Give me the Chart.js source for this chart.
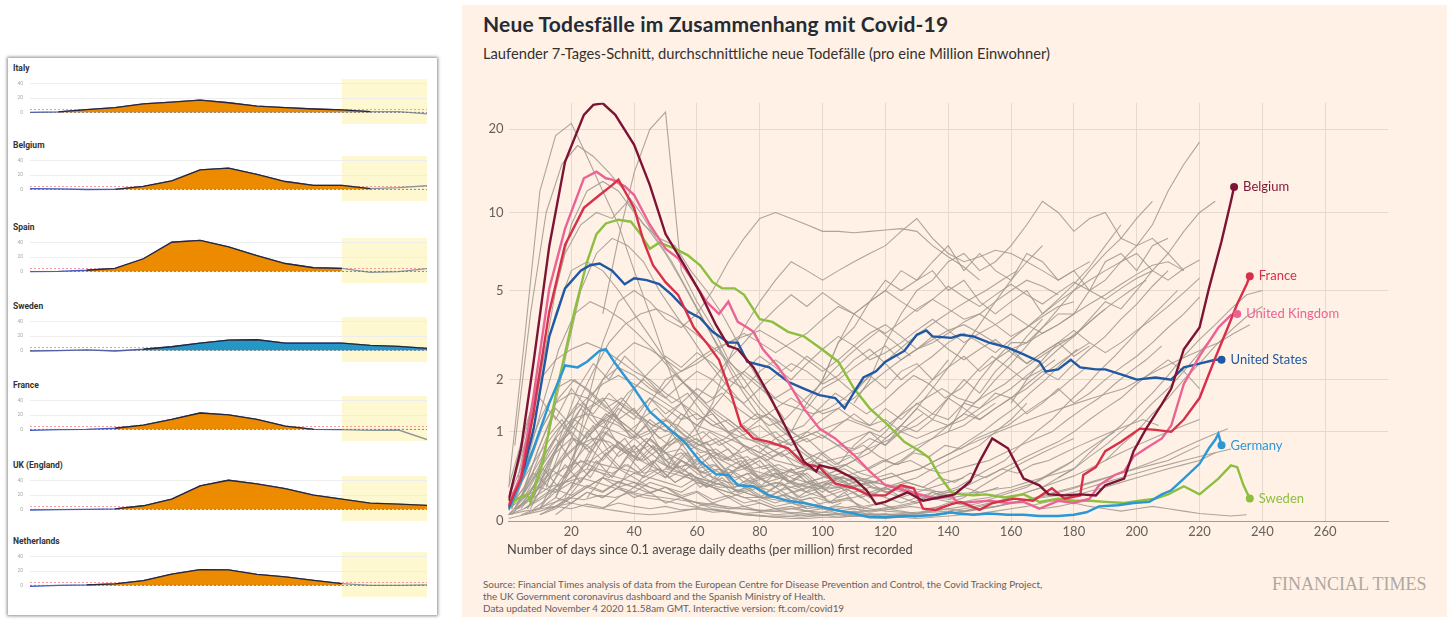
<!DOCTYPE html>
<html>
<head>
<meta charset="utf-8">
<script src="https://cdn.jsdelivr.net/npm/chart.js@4.4.0/dist/chart.umd.min.js"></script>
<style>
  body { margin: 0; width: 1453px; height: 621px; background: #fff; position: relative; overflow: hidden; font-family: Lato, "Open Sans", sans-serif; }
  #card { position: absolute; left: 8px; top: 58px; width: 429px; height: 557px; background: #fff; box-shadow: 0 0 3px 1px rgba(0,0,0,0.45); }
  .mini-title { position: absolute; left: 13px; font: bold 8.5px Roboto, sans-serif; color: #333; line-height: 10px; }
  .mini { position: absolute; left: 8px; }
  #ft { position: absolute; left: 462px; top: 5px; width: 985px; height: 612px; background: #fff1e5; }
  #ft-title { position: absolute; left: 483px; top: 11px; font: bold 21px Lato, sans-serif; letter-spacing: 0.2px; color: #262a33; white-space: nowrap; }
  #ft-sub { position: absolute; left: 483px; top: 44px; font: 14.7px Lato, sans-serif; color: #33302e; white-space: nowrap; }
  #ft-xtitle { position: absolute; left: 507px; top: 541px; font: 12.8px Lato, sans-serif; color: #4d4845; white-space: nowrap; }
  #ft-source { position: absolute; left: 483px; top: 578px; font: 9.9px Lato, sans-serif; line-height: 12px; color: #66605c; white-space: nowrap; }
  #ft-brand { position: absolute; left: 1272px; top: 574px; font: 18px "Liberation Serif", "DejaVu Serif", serif; color: #b0a8a0; white-space: nowrap; }
  #main { position: absolute; left: 462px; top: 90px; }
</style>
</head>
<body>
<div id="card"></div>
<div id="ft"></div>
<div id="ft-title">Neue Todesfälle im Zusammenhang mit Covid-19</div>
<div id="ft-sub">Laufender 7-Tages-Schnitt, durchschnittliche neue Todefälle (pro eine Million Einwohner)</div>
<canvas id="main" width="985" height="455"></canvas>
<div id="ft-xtitle">Number of days since 0.1 average daily deaths (per million) first recorded</div>
<div id="ft-source">Source: Financial Times analysis of data from the European Centre for Disease Prevention and Control, the Covid Tracking Project,<br>the UK Government coronavirus dashboard and the Spanish Ministry of Health.<br>Data updated November 4 2020 11.58am GMT. Interactive version: ft.com/covid19</div>
<div id="ft-brand">FINANCIAL TIMES</div>

<script>
// ---------- left panel: weekly z-scores ----------
const weeks = [8, 9, 10, 11, 12, 13, 14, 15, 16, 17, 18, 19, 20, 21, 22];
const countries = ['Italy', 'Belgium', 'Spain', 'Sweden', 'France', 'UK (England)', 'Netherlands'];

const zItaly       = [0, 0.5, 3.7, 6.5, 12, 14.4, 17.2, 13.5, 8.8, 6.5, 4.7, 3.3, 1, 1, -2.3];
const zBelgium     = [1, 0.5, -0.3, 0, 4, 12, 27.4, 30, 21, 11, 5.6, 5.6, 1, 2.5, 5];
const zSpain       = [-0.5, 0, 1.5, 4.2, 17.7, 41, 43.7, 34.4, 22.3, 11, 5, 4, -1.4, -0.5, 3.7];
const zSweden      = [-1, -0.5, 0.5, -1, 1.5, 5, 10, 14.4, 14.9, 10.2, 10.2, 10.2, 7, 5.6, 2.8];
const zFrance      = [-1.5, -0.5, 0, 1.5, 6, 14, 23, 20.5, 14, 4.6, 0, -0.5, -1.5, -1, -14.4];
const zUK          = [-1, -0.5, 0, 0.5, 5, 14.4, 33, 41, 36, 29.3, 20, 14.4, 8.8, 7.4, 5.6];
const zNetherlands = [-1.5, 0, 0.5, 1.9, 6.5, 15.8, 22, 21.8, 15.3, 12, 7, 2.3, 0, 0, 0.5];
const zScores = [zItaly, zBelgium, zSpain, zSweden, zFrance, zUK, zNetherlands];

// weeks where the excess area is shaded
const fillFrom = [9, 11, 10, 12, 11, 11, 10];
const fillTo   = [20, 20, 19, 22, 18, 22, 19];
const miniYTicks = [0, 20, 40];
const thresholdZ = 4;
const delayFromWeek = 19;

// ---------- right panel: FT deaths per million (7-day avg) ----------
const yTickValues = [0, 1, 2, 5, 10, 20];

const belgium = [[0,0.17],[4,0.76],[8,2.45],[13,7.5],[18,15.3],[24,22.5],[27,24.4],[30,24.7],[34,22.5],[40,17.6],[45,12.6],[50,8.3],[56,6.3],[61,4.9],[66,3.6],[70,2.9],[73,2.8],[78,2.3],[83,1.66],[89,1.0],[94,0.59],[98,0.47],[99,0.54],[104,0.5],[110,0.39],[114,0.27],[117,0.14],[120,0.16],[127,0.25],[132,0.17],[137,0.2],[142,0.23],[147,0.36],[150,0.59],[154,0.9],[159,0.76],[164,0.39],[169,0.32],[172,0.23],[177,0.22],[182,0.23],[187,0.22],[190,0.32],[196,0.39],[199,0.72],[203,1.05],[208,1.48],[211,1.8],[215,2.8],[220,3.5],[223,5.1],[227,7.8],[230,11.0],[231,12.4]];
const france = [[0,0.12],[4,0.39],[8,1.34],[13,4.1],[18,7.55],[24,10.4],[29,11.6],[33,12.6],[35,13.2],[37,12],[40,10.4],[43,7.8],[46,6.3],[50,5.4],[54,4.8],[59,3.5],[63,3.0],[67,2.5],[71,1.66],[74,1.1],[78,0.9],[83,0.85],[89,0.76],[94,0.56],[99,0.52],[104,0.34],[110,0.29],[115,0.22],[120,0.22],[125,0.32],[129,0.29],[132,0.1],[136,0.09],[141,0.14],[144,0.16],[150,0.09],[154,0.15],[161,0.19],[167,0.17],[173,0.29],[177,0.19],[182,0.22],[183,0.43],[187,0.52],[190,0.72],[195,0.85],[201,1.05],[206,1.03],[211,1.0],[215,1.2],[220,1.6],[225,2.55],[229,3.5],[232,4.4],[235,5.3],[236,5.7]];
const unitedKingdom = [[0,0.13],[4,0.43],[8,1.66],[13,5.1],[18,8.7],[24,13.35],[28,14.1],[31,13.35],[33,13.2],[37,12.5],[40,11.6],[45,9],[50,7.3],[54,6.7],[59,5.4],[63,4.5],[67,4.0],[70,4.5],[73,3.7],[76,3.5],[78,3.35],[81,2.8],[86,2.3],[89,1.95],[94,1.4],[99,1.05],[104,0.9],[110,0.67],[115,0.47],[120,0.32],[126,0.27],[131,0.23],[136,0.19],[141,0.22],[143,0.15],[148,0.16],[153,0.17],[159,0.15],[164,0.16],[169,0.1],[175,0.17],[180,0.15],[185,0.19],[188,0.32],[193,0.43],[196,0.47],[199,0.65],[203,0.76],[208,0.9],[211,1.1],[215,1.9],[220,2.6],[226,3.5],[230,3.95],[232,4.0]];
const unitedStates = [[0,0.11],[5,0.52],[8,1.05],[13,3.2],[18,5.1],[23,6.0],[26,6.3],[29,6.4],[33,6.0],[37,5.3],[40,5.6],[44,5.5],[48,5.3],[52,4.8],[57,4.1],[61,3.85],[65,3.35],[70,3.0],[73,3.0],[76,2.45],[83,2.3],[89,1.95],[94,1.8],[99,1.66],[104,1.6],[107,1.4],[110,1.72],[113,2.05],[117,2.2],[120,2.45],[126,2.75],[130,3.25],[133,3.4],[135,3.2],[141,3.15],[144,3.25],[148,3.2],[153,3.0],[159,2.85],[164,2.65],[169,2.45],[171,2.2],[175,2.25],[179,2.5],[182,2.3],[187,2.25],[190,2.25],[196,2.1],[200,2.0],[206,2.05],[211,2.0],[215,2.3],[220,2.4],[225,2.5],[227,2.5]];
const germany = [[0,0.09],[4,0.36],[8,0.76],[13,1.5],[18,2.35],[22,2.3],[25,2.45],[29,2.75],[31,2.8],[34,2.4],[40,1.8],[45,1.34],[50,1.1],[56,0.85],[61,0.59],[66,0.44],[70,0.43],[73,0.32],[78,0.31],[83,0.22],[89,0.17],[94,0.15],[99,0.12],[104,0.09],[110,0.06],[115,0.03],[120,0.03],[126,0.04],[131,0.04],[136,0.05],[141,0.07],[143,0.06],[148,0.05],[153,0.06],[159,0.05],[164,0.05],[169,0.04],[175,0.04],[180,0.05],[184,0.07],[188,0.12],[194,0.13],[199,0.15],[204,0.16],[208,0.23],[211,0.27],[215,0.39],[220,0.56],[223,0.76],[225,0.88],[226,0.97],[227,0.8]];
const sweden = [[0,0.12],[3,0.19],[6,0.23],[7,0.16],[11,0.59],[15,1.66],[21,4.1],[25,6.5],[28,8.3],[31,9.1],[35,9.4],[39,9.24],[42,8.3],[45,7.3],[48,7.7],[53,7.3],[57,6.9],[61,6.3],[65,5.4],[68,5.1],[72,5.1],[75,4.8],[80,3.8],[84,3.7],[89,3.35],[94,3.2],[99,2.85],[105,2.45],[110,1.8],[115,1.4],[120,1.15],[126,0.85],[131,0.72],[134,0.63],[137,0.43],[141,0.25],[144,0.23],[148,0.22],[152,0.23],[158,0.2],[164,0.23],[169,0.16],[175,0.19],[180,0.17],[185,0.17],[190,0.16],[196,0.15],[201,0.17],[206,0.19],[210,0.23],[215,0.31],[220,0.23],[226,0.39],[230,0.54],[232,0.52],[234,0.32],[236,0.19]];

const highlightNames  = ['Belgium', 'France', 'United Kingdom', 'United States', 'Germany', 'Sweden'];
const highlightSeries = [belgium, france, unitedKingdom, unitedStates, germany, sweden];
const highlightColors = ['#7e1435', '#d8304a', '#eb6395', '#1f58a3', '#2a98d6', '#8cbf3f'];

// background countries, one value every 5 days from their start day
const greyStep = 5;
const greyStart = [0, 2, 30, 5, 3, 8, 20, 60, 110, 100, 90, 140, 160, 175, 190, 15, 10, 40, 50, 0, 0, 0, 2, 0, 0, 5, 3, 0, 4, 10, 0, 8, 0, 0, 12, 6, 1, 0,
                   2, 4, 1, 6, 0, 3, 8, 5, 10, 0, 12, 15, 20, 25, 30, 7, 2, 14, 0, 18, 35, 45, 0, 5,
                   0, 3, 6, 10, 1, 15, 4, 25];
const greyLines = [
  [0.3, 3, 12, 19, 21, 16, 12, 9, 6, 4, 2.5, 1.5, 1, 0.6, 0.4, 0.3, 0.2, 0.3, 0.2, 0.1],
  [0.8, 4, 10, 15, 17.5, 16, 14, 12, 10, 8, 6.5, 5, 3.8, 2.8, 2, 1.5, 1.1, 0.8, 0.6, 0.5, 0.4, 0.4, 0.3],
  [4, 8, 14, 20, 23, 6, 4.5, 3.5, 2.5, 2, 1.5, 1.2, 0.9, 0.7, 0.5],
  [0.5, 2, 5, 9, 12, 13, 12, 10, 8.5, 7, 5.5, 4.2, 3.2, 2.4, 1.8, 1.4, 1.1, 0.9, 0.7, 0.6, 0.5, 0.6, 0.8, 1, 1.3, 1.6, 2, 2.5],
  [0.4, 1.5, 4, 7, 9, 10, 9.5, 11, 9, 8, 7.5, 6, 5, 4, 3, 2.2, 1.6, 1.2],
  [0.3, 1, 2.5, 5, 7, 8, 7.5, 6.5, 5, 4, 3.2, 2.5, 2, 1.6, 1.3, 1.1, 1.2, 1.5, 1.8, 2.2, 2.6, 3, 3.4, 3, 2.6],
  [0.5, 1.5, 3, 4.5, 5, 4.5, 3.8, 3.5, 4, 5, 6.5, 8, 9.5, 10, 9.5, 9, 8.5, 8.5, 8.4, 8.5, 8.6, 8.7, 8.5, 7.5, 6.8, 6.2, 5.5],
  [1, 1.5, 2.5, 3.5, 4.5, 5.5, 6.5, 6, 5.5, 6, 6.5, 7, 7.5, 8.5, 9.5, 8, 7, 6.5, 6.8, 7.2, 7, 6.5, 6, 5.5, 6, 6.5],
  [1.5, 2, 3, 4, 5, 5.5, 6.5, 7, 6, 6.5, 7.5, 9, 11, 10, 8.5, 9.5, 10, 8, 7.5, 8, 7, 6],
  [2, 3, 4, 4.5, 5, 6, 5.5, 6.5, 7.5, 6, 7, 6, 5.5, 7, 6.5, 5.5, 6, 5, 6.5, 7, 6, 7.5, 8],
  [1, 1.5, 2, 3, 3.5, 4.5, 5.5, 5, 5.5, 6, 5, 5.5, 4.5, 4, 4.5, 5, 4, 4.5, 5, 5.5, 6, 6.5, 7, 6],
  [1, 1.5, 2, 2.5, 3, 3, 3.5, 4, 4, 5, 5.5, 6.5, 7.5, 9, 12, 15, 18],
  [1.5, 2, 2.5, 3, 3.2, 3.8, 4.5, 4.2, 5, 6, 7, 8.5, 10, 11],
  [0.4, 0.5, 0.7, 0.9, 1.1, 1.4, 1.7, 2.1, 2.6, 3.1, 3.6, 4.2, 4.8, 5],
  [0.6, 0.8, 1, 1.3, 1.6, 2, 2.4, 2.9, 3.4, 3.9, 4.3],
  [0.2, 0.6, 1.2, 2, 2.6, 3, 2.8, 2.5, 2.2, 2.4, 2.7, 3, 3.2, 3.4, 3.1, 2.8, 2.5, 2.2, 2.5, 2.9, 3.3, 3.6, 3.2, 2.8, 3, 3.3, 3.7, 4, 3.6, 3.2, 3.5, 3.9, 4.3, 4.5],
  [0.1, 0.4, 0.9, 1.5, 2, 2.3, 2.1, 1.8, 1.6, 1.9, 2.2, 2, 1.7, 1.5, 1.8, 2.1, 2.4, 2.2, 1.9, 2.1, 2.5, 2.8, 2.4, 2, 2.3, 2.6, 3, 3.3, 3, 2.7, 3.1, 3.5, 4, 4.6, 5.3, 6.2, 7.5, 9],
  [1, 1.5, 2, 2.2, 2.5, 2.8, 3, 3.3, 3, 2.7, 3, 3.3, 3.8, 4.3, 4, 3.6, 3.3, 3.7, 4.2, 4.6, 4.2, 3.8, 4, 4.5, 5, 5.5, 5.2, 4.8],
  [0.5, 0.8, 1.1, 1.4, 1.8, 2.2, 2.6, 2.3, 2, 2.4, 2.8, 3.2, 2.9, 2.5, 2.7, 3, 3.4, 3.8, 3.4, 3, 3.3, 3.6, 4, 3.6, 3.3, 3.6, 4, 4.4, 4.8, 5.3, 5.8, 6.3, 6.5, 6],
  [0.1, 0.5, 1, 1.5, 1.7, 1.6, 1.4, 1.2, 1, 0.8, 0.7, 0.6, 0.5, 0.4, 0.35, 0.3, 0.3, 0.25, 0.3, 0.35, 0.4, 0.5, 0.6, 0.7, 0.9, 1.1, 1.4, 1.8, 2.3, 2.9, 3.6, 4.5, 5.5, 6.5, 7.5],
  [0.2, 0.6, 1.2, 1.8, 2, 1.8, 1.5, 1.2, 1, 0.8, 0.6, 0.5, 0.4, 0.3, 0.25, 0.2, 0.15, 0.1, 0.1, 0.08, 0.07, 0.06, 0.05, 0.05, 0.04, 0.05, 0.06, 0.1, 0.15, 0.2, 0.3, 0.4, 0.5, 0.6, 0.7, 0.8, 0.9],
  [0.1, 0.3, 0.6, 0.9, 1.2, 1.3, 1.2, 1.1, 0.9, 0.7, 0.55, 0.45, 0.35, 0.3, 0.25, 0.2, 0.2, 0.2, 0.25, 0.3, 0.35, 0.4, 0.45, 0.5, 0.6, 0.7, 0.8, 0.9, 1, 1.1, 1.3, 1.5],
  [0.1, 0.2, 0.4, 0.6, 0.8, 0.9, 0.85, 0.7, 0.6, 0.5, 0.45, 0.4, 0.35, 0.3, 0.3, 0.35, 0.4, 0.45, 0.5, 0.55, 0.6, 0.65, 0.7, 0.8, 0.9, 1.1, 1.3],
  [0.05, 0.15, 0.3, 0.45, 0.55, 0.6, 0.55, 0.5, 0.4, 0.3, 0.25, 0.2, 0.15, 0.12, 0.1, 0.1, 0.08, 0.08, 0.1, 0.12, 0.15, 0.18, 0.2, 0.25, 0.3, 0.35, 0.4, 0.5, 0.6, 0.7, 0.8, 1, 1.2, 1.5],
  [0.1, 0.3, 0.8, 1.4, 1.1, 0.9, 1.2, 0.8, 0.6, 0.9, 0.7, 0.5, 0.7, 0.5, 0.4, 0.6, 0.4, 0.3, 0.5, 0.35, 0.25, 0.4, 0.3, 0.2, 0.3, 0.2, 0.15, 0.25, 0.2, 0.3, 0.25],
  [0.2, 0.5, 0.9, 0.6, 1, 0.7, 0.5, 0.8, 0.6, 0.4, 0.6, 0.45, 0.35, 0.5, 0.4, 0.3, 0.45, 0.35, 0.5, 0.7, 0.55, 0.8, 1, 0.8, 1.1, 1.4, 1.2, 1.6, 2, 1.7, 2.2, 2.6, 3.2, 3.8],
  [0.1, 0.2, 0.3, 0.35, 0.4, 0.35, 0.3, 0.25, 0.2, 0.18, 0.15, 0.12, 0.1, 0.08, 0.06, 0.05, 0.04, 0.04, 0.03, 0.04, 0.05, 0.06, 0.08, 0.1, 0.12, 0.15, 0.2, 0.25, 0.3, 0.4, 0.5, 0.6, 0.8, 1, 1.2, 1.5, 1.8, 2.2, 2.6, 3.1, 3.7, 4.3, 5],
  [0.05, 0.1, 0.2, 0.3, 0.4, 0.5, 0.45, 0.4, 0.35, 0.3, 0.25, 0.2, 0.15, 0.1, 0.08, 0.05, 0.04, 0.03, 0.02, 0.02, 0.03, 0.03, 0.04, 0.05, 0.05, 0.06, 0.07, 0.08, 0.1, 0.12, 0.15, 0.2, 0.25, 0.3, 0.4, 0.5, 0.6],
  [0.1, 0.3, 0.5, 0.7, 0.9, 1.1, 1, 0.9, 1, 1.2, 1.1, 0.9, 0.8, 0.9, 1.1, 1.3, 1.2, 1, 1.1, 1.4, 1.7, 1.5, 1.3, 1.5, 1.8, 2.1, 1.9, 1.6, 1.8, 2.2, 2.6, 2.3, 2, 2.2, 2.5],
  [0.05, 0.1, 0.2, 0.3, 0.25, 0.35, 0.3, 0.4, 0.35, 0.3, 0.4, 0.35, 0.3, 0.25, 0.3, 0.35, 0.3, 0.25, 0.2, 0.25, 0.3, 0.25, 0.2, 0.15, 0.2, 0.25, 0.2, 0.15, 0.1, 0.15, 0.2, 0.15, 0.1, 0.12, 0.15, 0.12, 0.1, 0.08, 0.1, 0.12, 0.1, 0.08, 0.06, 0.05, 0.04, 0.05],
  [0.2, 0.4, 0.7, 1, 1.3, 1.6, 1.9, 2.1, 1.9, 1.7, 1.5, 1.3, 1.1, 1, 0.9, 0.8, 0.7, 0.6, 0.55, 0.5, 0.45, 0.4, 0.38, 0.35, 0.33, 0.3, 0.28, 0.26, 0.25, 0.24, 0.25, 0.28, 0.3, 0.35, 0.4, 0.45, 0.5],
  [0.1, 0.2, 0.35, 0.5, 0.65, 0.8, 0.7, 0.6, 0.75, 0.9, 0.8, 0.7, 0.6, 0.5, 0.6, 0.7, 0.8, 0.9, 1, 1.1, 1.2, 1.1, 1, 1.2, 1.4, 1.6, 1.8, 1.6, 1.5, 1.7, 1.9, 2.2, 2.5, 2.8, 3.1, 3.5, 4, 4.5, 5, 5.5],
  [0.05, 0.08, 0.1, 0.12, 0.15, 0.12, 0.1, 0.08, 0.06, 0.05, 0.06, 0.08, 0.1, 0.09, 0.07, 0.05, 0.04, 0.03, 0.04, 0.05, 0.07, 0.1, 0.12, 0.1, 0.08, 0.07, 0.06, 0.05, 0.06, 0.08, 0.1, 0.12, 0.15, 0.18, 0.2, 0.22, 0.25, 0.3, 0.35, 0.4, 0.45, 0.5, 0.55, 0.6, 0.65, 0.7, 0.75],
  [0.3, 1, 2, 2.5, 2.8, 3, 2.8, 2.5, 2.2, 2, 1.7, 1.5, 1.3, 1.1, 1, 0.9, 0.85, 0.8, 0.9, 1, 1.2, 1.4, 1.6, 1.9, 2.2, 2.5, 2.8, 3.1, 3.4, 3.6, 3.3, 3, 2.8, 3, 3.3, 3.6, 4],
  [0.3, 0.8, 1.5, 2.2, 3, 3.6, 4, 4.2, 3.9, 3.5, 3.1, 2.7, 2.3, 2, 1.7, 1.5, 1.4, 1.3, 1.4, 1.6, 1.9, 2.2, 2.6, 3, 3.4, 3.8, 4.2, 4.6, 5, 5.5, 6],
  [0.2, 0.5, 0.8, 1.1, 1.4, 1.6, 1.5, 1.3, 1.1, 1, 0.9, 0.8, 0.7, 0.6, 0.5, 0.45, 0.4, 0.35, 0.3, 0.28, 0.3, 0.32, 0.35, 0.4, 0.45, 0.5, 0.6, 0.7, 0.8, 0.9, 1, 1.1, 1.2, 1.3, 1.4, 1.5, 1.6, 1.7, 1.8, 2, 2.2, 2.4, 2.6, 2.8, 3, 3.3, 3.6],
  [0.1, 0.6, 1.5, 2.8, 4, 4.5, 4.2, 3.8, 3.3, 2.8, 2.3, 1.9, 1.6, 1.3, 1.1, 0.9, 0.8, 0.7, 0.6, 0.5, 0.45, 0.4, 0.35, 0.3, 0.28, 0.25, 0.22, 0.2, 0.2, 0.22, 0.25, 0.3],
  [0.2, 0.9, 2.2, 4, 6, 6.5, 6, 5, 4, 3.2, 2.5, 2, 1.6, 1.3, 1, 0.8, 0.65, 0.5, 0.4, 0.35, 0.3, 0.3, 0.35, 0.4, 0.5, 0.6, 0.75, 0.9, 1.1, 1.3, 1.6, 2, 2.4, 2.9, 3.5, 4.2, 5, 6, 7, 8, 9.5, 11],
  [0.1, 0.4, 0.9, 1.2, 0.8, 1.1, 0.7, 0.9, 0.6, 0.8, 0.5, 0.7, 0.4, 0.5, 0.3, 0.4, 0.25, 0.35, 0.2, 0.3, 0.15, 0.25, 0.1],
  [0.2, 0.7, 1.3, 1.0, 1.5, 1.1, 1.3, 0.9, 1.1, 0.7, 0.9, 0.6, 0.7, 0.5, 0.6, 0.4, 0.5, 0.35, 0.45, 0.3, 0.4, 0.3, 0.35],
  [0.05, 0.2, 0.5, 0.3, 0.6, 0.4, 0.7, 0.5, 0.45, 0.6, 0.4, 0.5, 0.3, 0.4, 0.25, 0.3, 0.2, 0.25, 0.15, 0.2, 0.1, 0.15],
  [0.1, 0.3, 0.6, 0.9, 0.7, 1.0, 0.8, 0.6, 0.8, 0.5, 0.7, 0.45, 0.55, 0.35, 0.45, 0.3, 0.35, 0.25, 0.3, 0.2],
  [0.1, 0.25, 0.5, 0.8, 1.0, 0.75, 0.9, 0.65, 0.8, 0.55, 0.7, 0.45, 0.6, 0.4, 0.5, 0.35, 0.4, 0.3, 0.35, 0.25, 0.3, 0.2, 0.25, 0.15],
  [0.15, 0.45, 0.3, 0.55, 0.35, 0.6, 0.4, 0.65, 0.45, 0.5, 0.35, 0.45, 0.3, 0.4, 0.25, 0.35, 0.2, 0.3, 0.2, 0.25, 0.15, 0.2, 0.1, 0.15, 0.1],
  [0.2, 0.6, 1.0, 1.4, 1.1, 1.3, 1.0, 1.2, 0.9, 1.0, 0.75, 0.85, 0.6, 0.7, 0.5, 0.55, 0.4, 0.45, 0.3, 0.35, 0.25],
  [0.05, 0.1, 0.2, 0.15, 0.25, 0.2, 0.3, 0.2, 0.25, 0.15, 0.2, 0.12, 0.15, 0.1, 0.12, 0.08, 0.1, 0.06, 0.08, 0.05, 0.06, 0.04, 0.05, 0.03, 0.04, 0.03],
  [0.1, 0.3, 0.55, 0.8, 0.6, 0.85, 0.65, 0.9, 0.7, 0.75, 0.55, 0.65, 0.45, 0.55, 0.4, 0.5, 0.35, 0.45, 0.3, 0.4, 0.3, 0.35, 0.25, 0.3, 0.2],
  [0.2, 0.8, 1.6, 1.2, 1.8, 1.4, 1.6, 1.2, 1.4, 1.0, 1.1, 0.8, 0.9, 0.65, 0.75, 0.5, 0.6, 0.4, 0.5, 0.35, 0.4],
  [0.1, 0.2, 0.35, 0.5, 0.4, 0.55, 0.45, 0.6, 0.5, 0.55, 0.45, 0.5, 0.4, 0.45, 0.35, 0.4, 0.3, 0.35, 0.25, 0.3, 0.2, 0.25, 0.3, 0.35, 0.3, 0.4, 0.35, 0.45, 0.4, 0.5, 0.45, 0.55, 0.6, 0.7, 0.8, 0.9, 1.0, 1.1, 1.2, 1.1],
  [0.05, 0.15, 0.25, 0.2, 0.3, 0.25, 0.35, 0.3, 0.25, 0.35, 0.3, 0.2, 0.25, 0.2, 0.15, 0.2, 0.15, 0.1, 0.12, 0.1, 0.08, 0.1, 0.08, 0.06, 0.08, 0.1, 0.08, 0.12, 0.15, 0.2, 0.25, 0.3, 0.4, 0.5, 0.65, 0.8, 1.0, 1.2, 1.5, 1.8, 2.2, 2.7, 3.3],
  [0.3, 0.6, 1.0, 1.4, 1.2, 1.6, 1.3, 1.5, 1.2, 1.3, 1.0, 1.1, 0.9, 1.0, 0.8, 0.9, 0.7, 0.8, 0.75, 0.9, 0.8, 1.0, 1.1, 1.3, 1.2, 1.5, 1.4, 1.7, 1.6, 1.9, 2.2, 2.0, 2.4, 2.8, 3.2, 3.8, 4.4, 5.2, 6],
  [0.2, 0.4, 0.7, 0.9, 1.2, 1.0, 1.3, 1.1, 1.4, 1.2, 1.0, 1.2, 1.4, 1.6, 1.4, 1.8, 2.0, 1.7, 2.1, 1.8, 2.2, 2.4, 2.0, 2.3, 2.6, 2.2, 2.5, 2.8, 2.4, 2.7, 3.0, 2.6, 2.9],
  [0.1, 0.2, 0.3, 0.5, 0.4, 0.6, 0.5, 0.7, 0.6, 0.8, 0.7, 0.9, 0.8, 1.0, 0.9, 1.1, 1.3, 1.1, 1.4, 1.2, 1.5, 1.3, 1.6, 1.4, 1.2, 1.4, 1.6, 1.3, 1.5, 1.8, 1.5, 1.7, 2.0, 2.3, 2.6, 3.0, 3.5, 4.0, 4.7],
  [0.1, 0.4, 1.0, 1.8, 2.4, 2.0, 2.6, 2.2, 1.8, 1.5, 1.7, 1.3, 1.1, 0.9, 1.0, 0.8, 0.65, 0.75, 0.6, 0.5, 0.55, 0.45, 0.4, 0.45, 0.35, 0.3, 0.25, 0.2],
  [0.1, 0.35, 0.7, 1.1, 1.5, 1.3, 1.7, 1.4, 1.2, 1.4, 1.1, 0.9, 1.0, 0.8, 0.9, 0.7, 0.6, 0.7, 0.5, 0.6, 0.45, 0.5, 0.4, 0.35, 0.3, 0.25, 0.2, 0.18, 0.15, 0.12],
  [0.1, 0.2, 0.4, 0.6, 0.8, 0.7, 0.9, 0.75, 0.95, 0.8, 1.0, 0.85, 0.7, 0.8, 0.65, 0.75, 0.6, 0.7, 0.55, 0.65, 0.5, 0.6, 0.55, 0.7, 0.65, 0.8, 0.75, 0.9, 1.0, 1.1, 1.3, 1.5, 1.7, 2.0, 2.3],
  [0.1, 0.2, 0.3, 0.25, 0.35, 0.3, 0.4, 0.3, 0.35, 0.25, 0.3, 0.2, 0.25, 0.15, 0.2, 0.12, 0.15, 0.1, 0.12, 0.08, 0.1, 0.06, 0.08, 0.05, 0.06, 0.04, 0.05, 0.04, 0.06, 0.08, 0.1, 0.12, 0.15, 0.18, 0.22, 0.26, 0.3, 0.35, 0.4, 0.45, 0.5, 0.55, 0.6, 0.7, 0.8],
  [0.2, 0.5, 0.9, 1.3, 1.7, 2.0, 1.7, 2.1, 1.8, 1.5, 1.7, 1.4, 1.2, 1.3, 1.1, 0.9, 1.0, 0.85, 0.7, 0.8, 0.65, 0.55, 0.6, 0.5, 0.45, 0.5, 0.55, 0.6, 0.7, 0.8, 0.9, 1.0, 1.2, 1.4, 1.6, 1.9, 2.2, 2.5, 2.9],
  [0.3, 0.6, 0.9, 1.2, 1.5, 1.8, 1.6, 2.0, 1.8, 2.2, 2.5, 2.2, 2.6, 2.3, 2.0, 2.3, 2.6, 2.9, 2.5, 2.8, 3.2, 2.8, 2.5, 2.8, 3.1, 2.7, 2.4, 2.7, 3.0, 3.4, 3.0, 2.7, 3.0, 3.4, 3.8, 4.3, 4.9, 5.6],
  [0.5, 0.8, 1.2, 1.6, 2.0, 2.5, 3.0, 3.6, 4.2, 4.8, 4.3, 4.9, 4.4, 4.0, 4.5, 5.0, 4.5, 4.1, 4.6, 5.2, 4.7, 4.3, 4.8, 5.3, 4.8, 4.4, 4.9, 5.4, 5.0, 4.6, 5.1, 5.6, 6.0, 5.5, 6.1, 6.6],
  [0.02, 0.05, 0.08, 0.12, 0.1, 0.14, 0.11, 0.15, 0.12, 0.1, 0.12, 0.09, 0.1, 0.07, 0.08, 0.06, 0.07, 0.05, 0.06, 0.04, 0.05, 0.03, 0.04, 0.03, 0.02, 0.03, 0.02, 0.03, 0.04, 0.05, 0.06, 0.08, 0.1, 0.12, 0.15, 0.18, 0.22, 0.26, 0.3, 0.35, 0.4, 0.45, 0.5, 0.55, 0.6, 0.7],
  [0.1, 0.18, 0.28, 0.22, 0.32, 0.26, 0.36, 0.3, 0.24, 0.3, 0.22, 0.26, 0.18, 0.22, 0.15, 0.18, 0.12, 0.15, 0.1, 0.12, 0.08, 0.1, 0.07, 0.09, 0.12, 0.15, 0.2, 0.25, 0.3, 0.38, 0.46, 0.55, 0.65, 0.75, 0.85, 1.0, 1.2, 1.4, 1.6, 1.9, 2.2, 2.5, 2.2, 1.8],
  [0.05, 0.2, 0.4, 0.7, 0.9, 0.8, 1.0, 0.85, 0.7, 0.8, 0.6, 0.7, 0.5, 0.55, 0.45, 0.5, 0.4, 0.45, 0.35, 0.3, 0.35, 0.3, 0.25, 0.3, 0.25, 0.2, 0.25, 0.3, 0.35, 0.4],
  [0.1, 0.3, 0.5, 0.4, 0.6, 0.5, 0.45, 0.55, 0.4, 0.5, 0.35, 0.45, 0.3, 0.35, 0.25, 0.3, 0.2, 0.22, 0.18, 0.2, 0.15, 0.18, 0.12, 0.15, 0.1, 0.12, 0.1, 0.12, 0.15, 0.18, 0.2, 0.25, 0.3, 0.35, 0.45, 0.55, 0.7, 0.85, 1.0],
  [0.1, 0.4, 0.8, 1.2, 1.0, 1.3, 1.1, 0.9, 1.0, 0.8, 0.9, 0.7, 0.75, 0.6, 0.65, 0.5, 0.55, 0.45, 0.5, 0.4, 0.45, 0.4, 0.35, 0.4, 0.45, 0.5, 0.6, 0.7, 0.85, 1.0, 1.2, 1.4, 1.7, 2.0, 2.4, 2.8],
  [0.05, 0.12, 0.2, 0.3, 0.4, 0.35, 0.45, 0.4, 0.5, 0.45, 0.4, 0.35, 0.3, 0.25, 0.2, 0.18, 0.15, 0.12, 0.1, 0.08, 0.07, 0.06, 0.05, 0.05, 0.06, 0.07, 0.08, 0.1, 0.13, 0.16, 0.2, 0.25, 0.3, 0.36, 0.42, 0.5, 0.6, 0.7, 0.8, 0.9, 1.0, 1.1, 1.2],
  [0.1, 0.5, 1.1, 1.6, 2.0, 1.7, 1.4, 1.6, 1.3, 1.1, 1.2, 0.95, 0.8, 0.9, 0.7, 0.6, 0.65, 0.5, 0.45, 0.5, 0.4, 0.35, 0.4, 0.3, 0.25, 0.3, 0.22, 0.2, 0.18],
  [0.2, 0.5, 0.9, 1.2, 1.5, 1.3, 1.6, 1.4, 1.2, 1.3, 1.1, 1.2, 1.0, 1.1, 0.9, 1.0, 0.85, 0.95, 0.8, 0.9, 1.0, 0.9, 1.1, 1.0, 1.2, 1.1, 1.3, 1.2, 1.4, 1.6, 1.8, 2.1, 2.4, 2.7, 3.0],
  [0.05, 0.1, 0.15, 0.2, 0.18, 0.22, 0.2, 0.25, 0.22, 0.2, 0.18, 0.16, 0.14, 0.12, 0.1, 0.09, 0.08, 0.07, 0.06, 0.05, 0.05, 0.04, 0.04, 0.03, 0.03, 0.04, 0.05, 0.06, 0.07, 0.09, 0.11, 0.14, 0.17, 0.2, 0.24, 0.28, 0.33, 0.38, 0.44, 0.5, 0.57, 0.65, 0.75, 0.85, 0.95, 1.05],
  [0.5, 0.9, 1.3, 1.8, 2.2, 2.6, 2.3, 2.7, 2.4, 2.0, 2.2, 1.9, 1.6, 1.8, 1.5, 1.3, 1.4, 1.2, 1.1, 1.2, 1.0, 0.9, 1.0, 1.1, 1.2, 1.4, 1.6, 1.8, 2.1, 2.4, 2.8, 3.2, 3.7, 4.2]
];

// ---------- small multiples ----------
const titleY = [68, 145, 227, 306, 385, 465, 541];

const delayBox = {
  id: 'delayBox',
  beforeDraw(chart) {
    const { ctx, chartArea: a, scales: { x } } = chart;
    const x0 = x.getPixelForValue(delayFromWeek);
    ctx.save();
    ctx.fillStyle = '#fdf8cf';
    ctx.fillRect(x0, a.top, x.getPixelForValue(weeks[weeks.length - 1]) - x0, a.bottom - a.top);
    ctx.restore();
  }
};

countries.forEach((name, i) => {
  const t = document.createElement('div');
  t.className = 'mini-title';
  t.style.top = (titleY[i] - 5) + 'px';
  t.textContent = name;
  document.body.appendChild(t);

  // y tick labels add 10px above the plot (half label + padding)
  const c = document.createElement('canvas');
  c.className = 'mini';
  c.width = 428;
  c.height = 65;
  c.style.top = (titleY[i] + 1) + 'px';
  document.body.appendChild(c);

  const vals = zScores[i];
  const line = weeks.map((w, k) => ({ x: w, y: vals[k] }));
  const area = line.filter(p => p.x >= fillFrom[i] && p.x <= fillTo[i]);
  const fillColor = name === 'Sweden' ? '#2597c6' : '#ec8b00';
  const wStart = weeks[0], wEnd = weeks[weeks.length - 1];

  new Chart(c, {
    type: 'line',
    data: {
      datasets: [
        { data: [{ x: wStart, y: 0 }, { x: wEnd, y: 0 }], borderColor: '#6b6b6b', borderDash: [2, 2], borderWidth: 0.8, pointRadius: 0, order: 0 },
        { data: area, borderColor: '#26263a', borderWidth: 1.3, backgroundColor: fillColor,
          fill: { target: 'origin', above: fillColor, below: fillColor }, pointRadius: 0, order: 1 },
        { data: line, borderWidth: 1.3, pointRadius: 0, fill: false, order: 2,
          segment: { borderColor: s => s.p0.parsed.x >= delayFromWeek ? '#8d949c' : '#4457c2' } },
        { data: [{ x: wStart, y: thresholdZ }, { x: wEnd, y: thresholdZ }], borderColor: '#f4999b', borderDash: [2, 2], borderWidth: 1, pointRadius: 0, order: 3 }
      ]
    },
    options: {
      responsive: false,
      animation: false,
      devicePixelRatio: 1,
      layout: { padding: { top: 0, right: 9, left: 0, bottom: 0 } },
      plugins: { legend: { display: false }, tooltip: { enabled: false } },
      scales: {
        x: {
          type: 'linear', min: wStart, max: wEnd,
          afterFit: s => { s.height = 10; },
          ticks: { stepSize: 1, autoSkip: false, maxRotation: 0, padding: 2, color: '#aaa', font: { size: 5, family: 'Roboto' },
                   callback: v => String(v).padStart(2, '0') },
          grid: { display: false }, border: { display: false }
        },
        y: {
          min: -16.5, max: 47,
          afterFit: s => { s.width = 22; },
          afterBuildTicks: s => { s.ticks = miniYTicks.map(v => ({ value: v })); },
          ticks: { padding: 7, color: '#aaa', font: { size: 5, family: 'Roboto' } },
          grid: { color: '#eeeeee', drawTicks: false }, border: { display: false }
        }
      }
    },
    plugins: [delayBox]
  });
});

// ---------- FT chart ----------
class Log1pScale extends Chart.Scale {
  determineDataLimits() {
    this.min = this.options.min ?? 0;
    this.max = this.options.max;
  }
  buildTicks() {
    return yTickValues.map(v => ({ value: v }));
  }
  configure() {
    super.configure();
    this._lo = Math.log10(this.min + 1);
    this._range = Math.log10(this.max + 1) - this._lo;
  }
  getPixelForValue(v) {
    return this.getPixelForDecimal((Math.log10(v + 1) - this._lo) / this._range);
  }
  getValueForPixel(p) {
    return Math.pow(10, this.getDecimalForPixel(p) * this._range + this._lo) - 1;
  }
}
Log1pScale.id = 'log1p';
Log1pScale.defaults = {};
Chart.register(Log1pScale);

const greySets = greyLines.map((vals, k) => ({
  data: vals.map((v, j) => ({ x: greyStart[k] + j * greyStep, y: v })),
  borderColor: 'rgba(160,150,142,0.85)',
  borderWidth: 1.1,
  pointRadius: 0,
  order: 2
}));

const colourSets = highlightSeries.map((pts, k) => ({
  label: highlightNames[k],
  data: pts.map(p => ({ x: p[0], y: p[1] })),
  borderColor: highlightColors[k],
  borderWidth: 2.4,
  pointRadius: 0,
  order: 1
}));

const endLabels = {
  id: 'endLabels',
  afterDatasetsDraw(chart) {
    const { ctx } = chart;
    ctx.save();
    ctx.font = '13px Lato, sans-serif';
    ctx.textBaseline = 'middle';
    chart.data.datasets.forEach((ds, i) => {
      if (!ds.label) return;
      const pts = chart.getDatasetMeta(i).data;
      const last = pts[pts.length - 1];
      ctx.fillStyle = ds.borderColor;
      ctx.beginPath();
      ctx.arc(last.x, last.y, 4, 0, Math.PI * 2);
      ctx.fill();
      ctx.fillText(ds.label, last.x + 9, last.y);
    });
    ctx.restore();
  }
};

new Chart(document.getElementById('main'), {
  type: 'line',
  data: { datasets: [...colourSets, ...greySets] },
  options: {
    responsive: false,
    animation: false,
    devicePixelRatio: 1,
    layout: { padding: { top: 0, right: 59, left: 0, bottom: 0 } },
    plugins: { legend: { display: false }, tooltip: { enabled: false } },
    elements: { line: { tension: 0 } },
    scales: {
      x: {
        type: 'linear', min: 0, max: 280,
        afterFit: s => { s.height = 24; },
        ticks: { stepSize: 20, padding: 3, maxRotation: 0, color: '#66605c', font: { size: 13, family: 'Lato' },
                 callback: v => (v === 0 || v === 280) ? '' : v },
        grid: { color: c => (c.tick && (c.tick.value === 0 || c.tick.value === 280)) ? 'rgba(0,0,0,0)' : '#e6d9cd', drawTicks: false },
        border: { color: '#a39c96', width: 1 }
      },
      y: {
        type: 'log1p', min: 0, max: 24.8,
        afterFit: s => { s.width = 46.5; },
        ticks: { padding: 5, color: '#66605c', font: { size: 13, family: 'Lato' } },
        grid: { color: c => (c.tick && c.tick.value === 0) ? 'rgba(0,0,0,0)' : '#e6d9cd', drawTicks: false },
        border: { display: false }
      }
    }
  },
  plugins: [endLabels]
});
</script>
</body>
</html>
